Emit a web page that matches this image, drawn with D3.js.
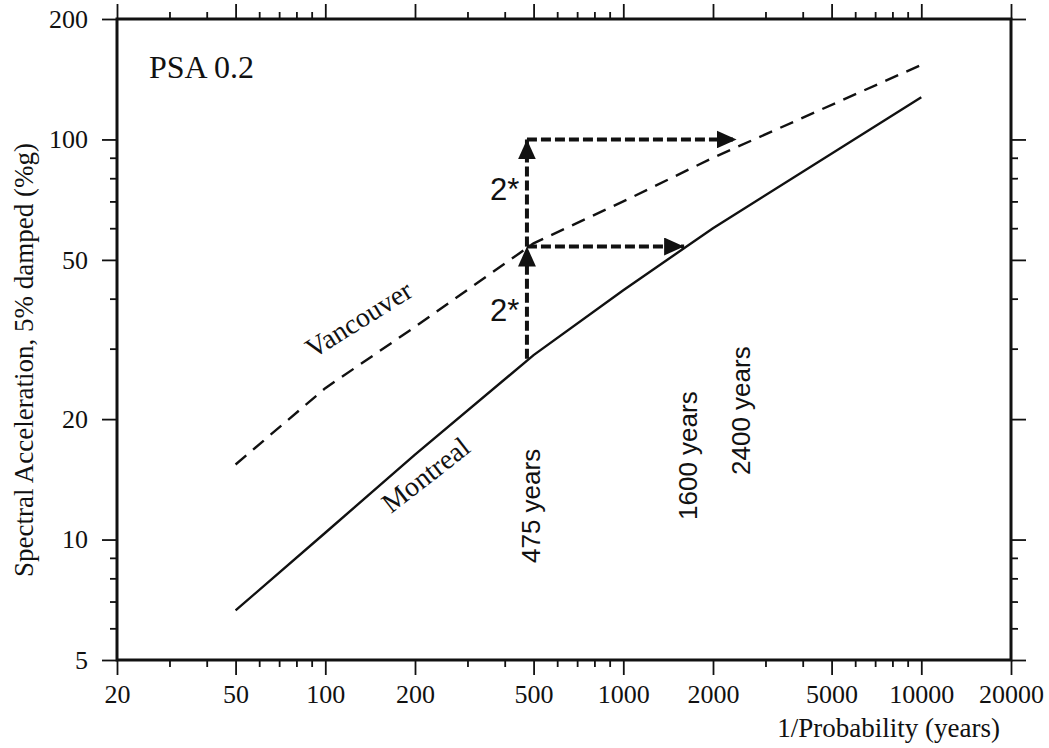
<!DOCTYPE html>
<html>
<head>
<meta charset="utf-8">
<script src="https://cdn.jsdelivr.net/npm/d3@7"></script>
<style>
  html, body { margin: 0; padding: 0; background: #fff; }
  svg { display: block; }
  text { fill: #111; }
</style>
</head>
<body>
<svg id="chart" width="1049" height="748"></svg>
<script>
// ---- data ----
const returnPeriods = [50, 100, 200, 500, 1000, 2000, 10000];
const montreal      = [6.65, 10.4, 16.3, 28.9, 42, 60, 127.5];
const vancouver     = [15.4, 23.9, 34, 55, 70, 90, 153.6];

const xMajorTicks = [20, 50, 100, 200, 500, 1000, 2000, 5000, 10000, 20000];
const yMajorTicks = [5, 10, 20, 50, 100, 200];

// arrow construction: at 475 years, doubling steps
const arrowYear = 475;
const arrowLevels = [28.3, 54, 100];      // Montreal(475) -> 2x -> 2x
const arrowTargetYears = [1600, 2400];    // where each doubled level meets the curves
const stepLabels = ["2*", "2*"];

const periodLabels = [
  {text: "475 years", year: 475, at: 563},
  {text: "1600 years", year: 1600, at: 520},
  {text: "2400 years", year: 2400, at: 475}
];

// ---- layout ----
const svg = d3.select("#chart");
const mLeft = 117, mRight = 1011, mTop = 19, mBottom = 660;

const x = d3.scaleLog().domain([20, 20000]).range([mLeft, mRight]);
const y = d3.scaleLog().domain([5, 200]).range([mBottom, mTop]);

function minorTicks(lo, hi, majors) {
  const out = [];
  for (let e = Math.floor(Math.log10(lo)); e <= Math.ceil(Math.log10(hi)); e++) {
    for (let k = 1; k <= 9; k++) {
      const v = k * Math.pow(10, e);
      if (v >= lo && v <= hi && !majors.includes(v)) out.push(v);
    }
  }
  return out;
}
const xMinor = minorTicks(20, 20000, xMajorTicks);
const yMinor = minorTicks(5, 200, yMajorTicks);

const serif = "'Liberation Serif', 'Times New Roman', serif";
const sans = "'Liberation Sans', Arial, sans-serif";

function styleAxis(g) {
  g.select(".domain").remove();
  g.selectAll(".tick line").attr("stroke", "#111").attr("stroke-width", 1.8);
  g.selectAll("text").attr("font-family", serif).attr("font-size", 26).attr("fill", "#111");
}

svg.append("g").attr("transform", `translate(0,${mBottom})`)
  .call(d3.axisBottom(x).tickValues(xMajorTicks).tickSize(15).tickFormat(d3.format("d")))
  .call(styleAxis)
  .call(g => g.selectAll("text").attr("y", 43).attr("dy", 0));
svg.append("g").attr("transform", `translate(0,${mBottom})`)
  .call(d3.axisBottom(x).tickValues(xMinor).tickSize(7).tickFormat(""))
  .call(styleAxis);
svg.append("g").attr("transform", `translate(0,${mTop})`)
  .call(d3.axisTop(x).tickValues(xMajorTicks).tickSize(15).tickFormat(""))
  .call(styleAxis);
svg.append("g").attr("transform", `translate(0,${mTop})`)
  .call(d3.axisTop(x).tickValues(xMinor).tickSize(7).tickFormat(""))
  .call(styleAxis);

svg.append("g").attr("transform", `translate(${mLeft},0)`)
  .call(d3.axisLeft(y).tickValues(yMajorTicks).tickSize(15).tickPadding(14).tickFormat(d3.format("d")))
  .call(styleAxis);
svg.append("g").attr("transform", `translate(${mLeft},0)`)
  .call(d3.axisLeft(y).tickValues(yMinor).tickSize(7).tickFormat(""))
  .call(styleAxis);
svg.append("g").attr("transform", `translate(${mRight},0)`)
  .call(d3.axisRight(y).tickValues(yMajorTicks).tickSize(15).tickFormat(""))
  .call(styleAxis);
svg.append("g").attr("transform", `translate(${mRight},0)`)
  .call(d3.axisRight(y).tickValues(yMinor).tickSize(7).tickFormat(""))
  .call(styleAxis);

// frame
svg.append("rect")
  .attr("x", mLeft).attr("y", mTop)
  .attr("width", mRight - mLeft).attr("height", mBottom - mTop)
  .attr("fill", "none").attr("stroke", "#111").attr("stroke-width", 3);

// curves
const line = d3.line().x(d => x(d[0])).y(d => y(d[1]));
svg.append("path")
  .datum(returnPeriods.map((p, i) => [p, montreal[i]]))
  .attr("d", line).attr("fill", "none").attr("stroke", "#111").attr("stroke-width", 2.4);
svg.append("path")
  .datum(returnPeriods.map((p, i) => [p, vancouver[i]]))
  .attr("d", line).attr("fill", "none").attr("stroke", "#111").attr("stroke-width", 2.4)
  .attr("stroke-dasharray", "14,9");

// arrows
const defs = svg.append("defs");
defs.append("marker").attr("id", "head")
  .attr("markerUnits", "userSpaceOnUse")
  .attr("viewBox", "0 0 20 18").attr("refX", 20).attr("refY", 9)
  .attr("markerWidth", 20).attr("markerHeight", 18)
  .attr("orient", "auto")
  .append("path").attr("d", "M0,0 L20,9 L0,18 Z").attr("fill", "#111");

const arrowStyle = sel => sel.attr("fill", "none").attr("stroke", "#111")
  .attr("stroke-width", 4).attr("stroke-dasharray", "10,4").attr("marker-end", "url(#head)");

const labelShift = [18, 7];
for (let i = 0; i < arrowLevels.length - 1; i++) {
  svg.append("path")
    .datum([[arrowYear, arrowLevels[i]], [arrowYear, arrowLevels[i + 1]]])
    .attr("d", line).call(arrowStyle);
  svg.append("path")
    .datum([[arrowYear, arrowLevels[i + 1]], [arrowTargetYears[i], arrowLevels[i + 1]]])
    .attr("d", line).call(arrowStyle);
  const mid = Math.sqrt(arrowLevels[i] * arrowLevels[i + 1]);
  svg.append("text")
    .attr("x", x(arrowYear) - 37)
    .attr("y", y(mid) + labelShift[i])
    .attr("font-family", sans).attr("font-size", 31).text(stepLabels[i]);
}

// labels
svg.append("text").attr("x", 149).attr("y", 78)
  .attr("font-family", serif).attr("font-size", 32).text("PSA 0.2");

svg.append("text").attr("transform", "translate(313,359) rotate(-32)")
  .attr("font-family", serif).attr("font-size", 28).text("Vancouver");
svg.append("text").attr("transform", "translate(391,514) rotate(-38)")
  .attr("font-family", serif).attr("font-size", 28).text("Montreal");

periodLabels.forEach(d => {
  svg.append("text")
    .attr("transform", `translate(${x(d.year) + 13},${d.at}) rotate(-90)`)
    .attr("font-family", sans).attr("font-size", 26).text(d.text);
});

svg.append("text").attr("transform", "translate(33,360) rotate(-90)")
  .attr("text-anchor", "middle")
  .attr("font-family", serif).attr("font-size", 27)
  .text("Spectral Acceleration, 5% damped (%g)");

svg.append("text").attr("x", 1000).attr("y", 737).attr("text-anchor", "end")
  .attr("font-family", serif).attr("font-size", 27).text("1/Probability (years)");
</script>
</body>
</html>
